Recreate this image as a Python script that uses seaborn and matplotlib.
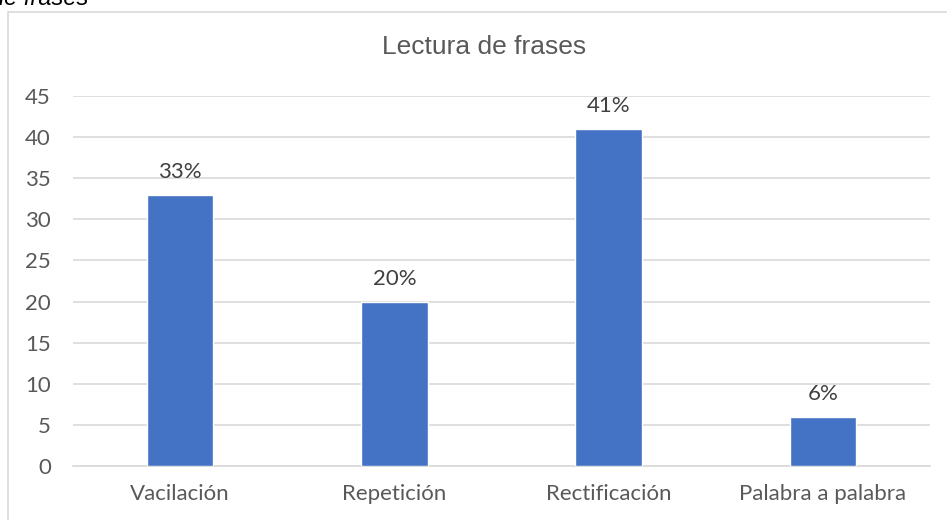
import matplotlib
matplotlib.use("Agg")
import matplotlib.pyplot as plt
import seaborn as sns
import pandas as pd
from matplotlib.patches import Rectangle

categorias = ["Vacilación", "Repetición", "Rectificación", "Palabra a palabra"]
valores = [33, 20, 41, 6]
etiquetas = ["33%", "20%", "41%", "6%"]
titulo = "Lectura de frases"

sns.set_theme(style="white")
plt.rcParams["font.family"] = ["Lato", "DejaVu Sans"]

df = pd.DataFrame({"categoria": categorias, "valor": valores})

fig = plt.figure(figsize=(9.47, 5.2), dpi=100)
ax = fig.add_axes([73 / 947, 1 - 466 / 520, (930 - 73) / 947, (466 - 96) / 520])

sns.barplot(data=df, x="categoria", y="valor", color="#4472C4", width=0.31,
            saturation=1, ax=ax, zorder=3)

ax.set_ylim(0, 45)
ax.set_yticks(range(0, 46, 5))
ax.set_xlim(-0.5, 3.5)
ax.set_xlabel("")
ax.set_ylabel("")
ax.yaxis.grid(True, color="#D9D9D9", linewidth=1.2, zorder=0)
for s in ["top", "right", "left"]:
    ax.spines[s].set_visible(False)
ax.spines["bottom"].set_color("#D9D9D9")
ax.spines["bottom"].set_linewidth(1.2)
ax.tick_params(axis="both", length=0, labelsize=16, colors="#595959")
ax.tick_params(axis="y", pad=16)
ax.tick_params(axis="x", pad=13)

ax.bar_label(ax.containers[0], labels=etiquetas, padding=9, fontsize=16,
             color="#404040")

fig.text(484 / 947, 1 - 47 / 520, titulo, ha="center", va="center", fontsize=19,
         color="#595959", family=["Liberation Sans", "DejaVu Sans"])

# texto cortado arriba a la izquierda (como en la imagen original)
fig.text(88 / 947, 1 - 5 / 520, "de frases", ha="right", va="baseline",
         fontsize=17, style="italic", color="black",
         family=["Liberation Sans", "DejaVu Sans"])

# borde del área del gráfico
fig.patches.append(Rectangle((8 / 947, -0.05), 1.0, 1 - 12 / 520 + 0.05,
                             transform=fig.transFigure, fill=False,
                             edgecolor="#D9D9D9", linewidth=1.2))

fig.savefig("out.png", dpi=100)
